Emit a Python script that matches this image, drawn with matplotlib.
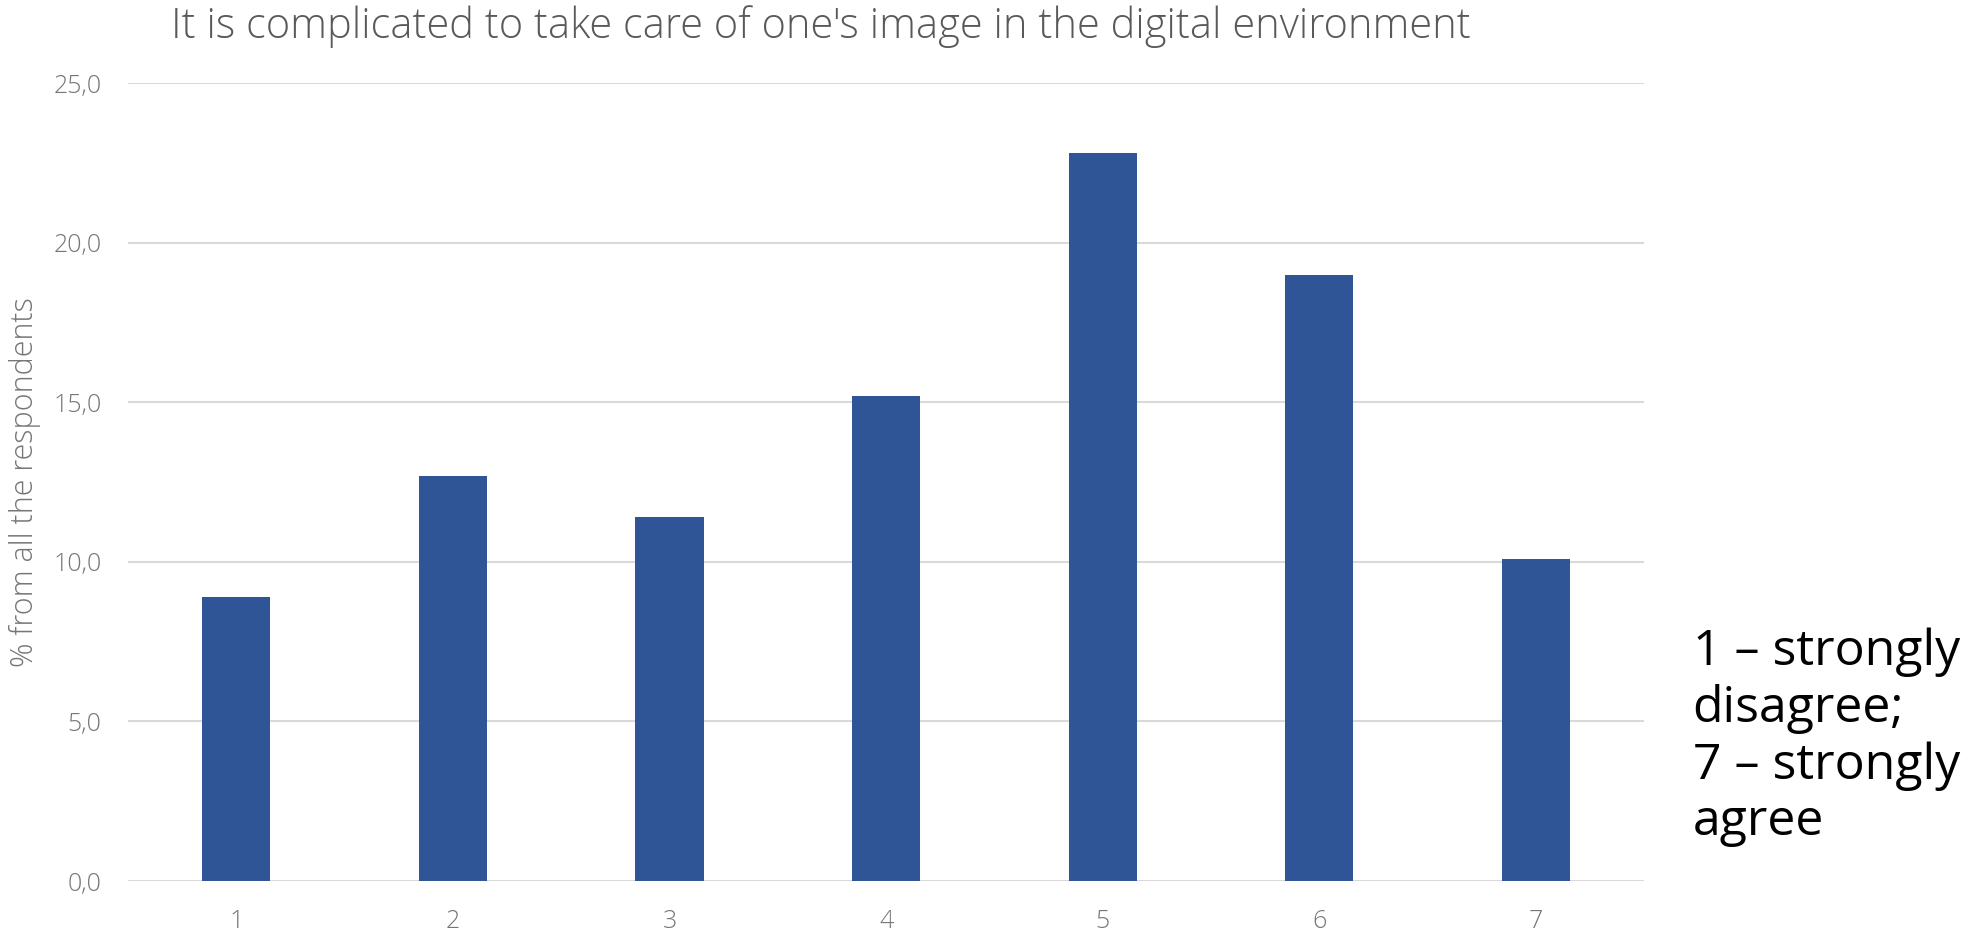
import matplotlib
matplotlib.use("Agg")
import matplotlib.pyplot as plt

# Data
categories = ["1", "2", "3", "4", "5", "6", "7"]
values = [8.9, 12.7, 11.4, 15.2, 22.8, 19.0, 10.1]
yticks = [0, 5, 10, 15, 20, 25]
ytick_labels = ["0,0", "5,0", "10,0", "15,0", "20,0", "25,0"]

title = "It is complicated to take care of one's image in the digital environment"
ylabel = "% from all the respondents"
note = "1 – strongly\ndisagree;\n7 – strongly\nagree"

BAR_COLOR = "#2F5597"
GRID_COLOR = "#D9D9D9"
TEXT_GRAY = "#595959"
TICK_GRAY = "#767676"
FONT = "Open Sans"

fig = plt.figure(figsize=(19.82, 9.31), dpi=100)
ax = fig.add_axes([0.0646, 0.0537, 0.765, 0.8571])

x = range(len(categories))
ax.bar(x, values, width=0.315, color=BAR_COLOR, zorder=3)

ax.set_xlim(-0.5, len(categories) - 0.5)
ax.set_ylim(0, 25)
ax.set_yticks(yticks)
ax.set_yticklabels(ytick_labels, fontsize=18, color=TICK_GRAY, family=FONT, fontweight="light")
ax.set_xticks(list(x))
ax.set_xticklabels(categories, fontsize=18, color=TICK_GRAY, family=FONT, fontweight="light")
ax.tick_params(axis="both", length=0)
ax.tick_params(axis="y", pad=19)
ax.tick_params(axis="x", pad=20)

ax.grid(axis="y", color=GRID_COLOR, linewidth=1.5, zorder=0)
for s in ax.spines.values():
    s.set_visible(False)

fig.text(0.0128, 0.482, ylabel, rotation=90, ha="center", va="center",
         fontsize=22, color=TICK_GRAY, family=FONT, fontweight="light")
fig.text(0.0863, 0.971, title, ha="left", va="center",
         fontsize=30, color=TEXT_GRAY, family=FONT, fontweight="light")
fig.text(0.854, 0.208, note, ha="left", va="center", fontsize=36,
         color="black", family=FONT, linespacing=1.18)

fig.savefig("out.png", dpi=100)
